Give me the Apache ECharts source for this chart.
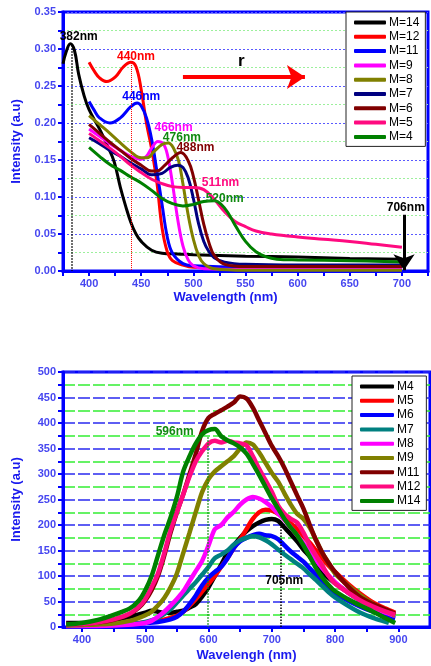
<!DOCTYPE html>
<html>
<head>
<meta charset="utf-8">
<script src="https://cdn.jsdelivr.net/npm/echarts@6/dist/echarts.min.js"></script>
<style>
  html, body { margin: 0; padding: 0; background: #fff; }
  #main { width: 431px; height: 666px; }
</style>
</head>
<body>
<div id="main"></div>
<script>
// absorption spectra, [wavelength nm, intensity a.u]
const absM14 = [[375,0.280],[378,0.296],[382,0.307],[386,0.298],[390,0.266],[395,0.238],[400,0.218],[410,0.192],[418,0.168],[424,0.148],[430,0.113],[435,0.088],[440,0.066],[445,0.050],[450,0.040],[460,0.028],[470,0.024],[485,0.023],[500,0.022],[550,0.020],[600,0.019],[650,0.017],[700,0.016]];
const absM12 = [[400,0.282],[405,0.270],[410,0.261],[417,0.256],[425,0.262],[433,0.276],[440,0.282],[445,0.276],[450,0.245],[455,0.200],[460,0.165],[465,0.120],[470,0.058],[475,0.026],[480,0.014],[490,0.008],[500,0.005],[550,0.004],[600,0.004],[650,0.003],[700,0.003]];
const absM11 = [[400,0.229],[405,0.217],[410,0.207],[420,0.200],[430,0.207],[440,0.222],[446,0.227],[450,0.223],[455,0.207],[460,0.178],[465,0.135],[470,0.090],[475,0.046],[480,0.024],[490,0.010],[500,0.007],[550,0.005],[600,0.005],[650,0.005],[700,0.004]];
const absM9 = [[400,0.192],[410,0.182],[420,0.172],[430,0.163],[440,0.155],[450,0.151],[455,0.155],[460,0.166],[466,0.175],[471,0.172],[475,0.158],[480,0.118],[485,0.070],[490,0.034],[495,0.015],[500,0.007],[510,0.003],[550,0.002],[600,0.002],[650,0.002],[700,0.002]];
const absM8 = [[400,0.210],[410,0.198],[420,0.186],[430,0.173],[440,0.161],[450,0.153],[456,0.153],[462,0.161],[470,0.171],[476,0.173],[481,0.166],[486,0.148],[490,0.118],[495,0.076],[500,0.043],[505,0.021],[510,0.010],[520,0.003],[550,0.001],[600,0.001],[650,0.001],[700,0.001]];
const absM7 = [[400,0.180],[410,0.172],[420,0.163],[430,0.155],[440,0.146],[450,0.138],[460,0.130],[470,0.132],[478,0.140],[485,0.143],[490,0.140],[495,0.126],[500,0.098],[505,0.064],[510,0.040],[515,0.026],[520,0.018],[530,0.012],[550,0.009],[600,0.008],[650,0.008],[700,0.008]];
const absM6 = [[400,0.198],[410,0.186],[420,0.174],[430,0.163],[440,0.152],[450,0.143],[460,0.135],[465,0.135],[472,0.142],[480,0.153],[488,0.160],[495,0.149],[500,0.128],[505,0.096],[510,0.063],[515,0.038],[520,0.021],[530,0.009],[550,0.006],[600,0.006],[650,0.006],[700,0.006]];
const absM5 = [[400,0.186],[410,0.176],[420,0.166],[430,0.155],[440,0.143],[450,0.133],[460,0.124],[470,0.118],[480,0.114],[490,0.113],[500,0.113],[510,0.110],[520,0.097],[530,0.080],[540,0.067],[550,0.060],[560,0.054],[575,0.050],[600,0.046],[625,0.043],[650,0.040],[675,0.036],[700,0.032]];
const absM4 = [[400,0.167],[410,0.155],[420,0.144],[430,0.136],[440,0.127],[450,0.119],[460,0.109],[470,0.098],[480,0.091],[490,0.088],[500,0.090],[510,0.094],[520,0.095],[530,0.085],[540,0.062],[550,0.040],[560,0.026],[570,0.019],[580,0.016],[600,0.015],[650,0.014],[700,0.012]];

// emission spectra, [wavelength nm, intensity a.u]
const plM4 = [[375,8],[400,8],[425,10],[450,14],[475,20],[500,28],[510,32],[520,30],[530,28],[540,28],[550,30],[560,32],[570,38],[580,45],[590,60],[600,78],[610,100],[620,122],[630,145],[640,160],[650,175],[660,188],[670,198],[680,205],[690,210],[700,212],[710,208],[720,195],[730,182],[740,168],[750,152],[760,138],[770,122],[780,108],[790,96],[800,86],[820,68],[840,52],[860,40],[880,30],[895,24]];
const plM5 = [[375,6],[400,5],[450,6],[500,9],[520,12],[540,18],[550,22],[560,30],[570,42],[580,55],[590,70],[600,85],[610,100],[620,118],[630,135],[640,155],[650,172],[660,192],[670,212],[680,225],[690,230],[700,228],[710,222],[720,213],[730,203],[740,192],[750,178],[760,165],[770,150],[780,135],[790,120],[800,108],[820,85],[840,65],[860,48],[880,36],[895,28]];
const plM6 = [[375,4],[400,4],[450,5],[500,8],[520,10],[540,15],[550,20],[560,30],[570,45],[580,62],[590,82],[600,97],[610,108],[620,118],[630,135],[640,155],[650,168],[660,175],[670,180],[680,183],[690,180],[700,178],[710,172],[720,160],[730,148],[740,138],[750,128],[760,115],[770,102],[780,88],[790,76],[800,66],[820,52],[840,40],[860,30],[880,22],[895,17]];
const plM7 = [[375,3],[400,3],[450,4],[480,6],[500,10],[520,18],[540,35],[550,48],[560,62],[570,75],[580,88],[590,103],[600,118],[610,135],[620,142],[630,150],[640,162],[650,170],[660,175],[670,178],[680,176],[690,170],[700,162],[710,152],[720,142],[730,133],[740,124],[750,115],[760,103],[770,92],[780,80],[790,68],[800,58],[820,42],[840,28],[860,18],[880,10],[885,8]];
const plM8 = [[375,2],[400,2],[450,3],[480,5],[500,8],[510,12],[520,20],[530,30],[540,42],[550,55],[560,70],[570,90],[580,110],[590,130],[600,160],[610,192],[620,200],[630,215],[640,226],[650,240],[660,250],[670,255],[680,252],[690,245],[700,235],[710,222],[720,210],[740,180],[760,148],[780,115],[800,88],[820,68],[840,52],[860,38],[880,28],[895,22]];
const plM9 = [[375,3],[400,4],[425,5],[450,7],[475,12],[490,18],[500,23],[510,30],[520,42],[530,57],[540,78],[550,105],[560,145],[570,185],[580,226],[590,265],[600,290],[610,305],[620,315],[630,325],[640,335],[650,350],[660,362],[670,358],[680,342],[690,322],[700,302],[710,285],[720,262],[730,240],[740,222],[750,212],[760,195],[770,170],[780,145],[790,125],[800,105],[820,82],[840,62],[860,45],[880,32],[895,22]];
const plM11 = [[375,4],[400,6],[425,9],[450,14],[475,25],[490,38],[500,52],[510,72],[520,100],[530,140],[540,185],[550,225],[560,260],[570,300],[580,340],[590,385],[600,410],[610,418],[620,425],[630,432],[640,440],[650,452],[660,448],[670,430],[680,405],[690,380],[700,355],[710,335],[720,312],[730,285],[740,258],[750,232],[760,200],[770,170],[780,145],[790,125],[800,108],[820,80],[840,58],[860,45],[880,34],[895,26]];
const plM12 = [[375,4],[400,6],[425,9],[450,15],[475,26],[490,40],[500,55],[510,78],[520,105],[530,145],[540,190],[550,225],[560,260],[570,295],[580,325],[590,345],[600,360],[610,365],[620,362],[630,365],[640,362],[650,360],[660,356],[670,335],[680,310],[690,288],[700,265],[710,238],[720,222],[730,212],[740,205],[750,185],[760,160],[770,140],[780,120],[790,100],[800,85],[820,68],[840,52],[860,40],[880,30],[895,24]];
const plM14 = [[375,5],[400,8],[425,14],[450,24],[475,36],[490,52],[500,72],[510,100],[520,140],[530,180],[540,215],[550,255],[560,305],[570,335],[580,360],[590,378],[600,386],[610,388],[620,374],[630,366],[640,360],[650,352],[660,340],[670,320],[680,298],[690,275],[700,252],[710,232],[720,212],[730,195],[740,180],[750,160],[760,138],[770,115],[780,97],[790,82],[800,70],[820,55],[840,42],[860,30],[880,17],[895,8]];

const absNames = ['M=14','M=12','M=11','M=9','M=8','M=7','M=6','M=5','M=4'];
const absData = [absM14, absM12, absM11, absM9, absM8, absM7, absM6, absM5, absM4];
const absColors = ['#000000','#ff0000','#0000ff','#ff00ff','#808000','#000080','#800000','#ff0a80','#008000'];

const plNames = ['M4','M5','M6','M7','M8','M9','M11','M12','M14'];
const plData = [plM4, plM5, plM6, plM7, plM8, plM9, plM11, plM12, plM14];
const plColors = ['#000000','#ff0000','#0000ff','#008080','#ff00ff','#808000','#800000','#ff0a80','#008000'];

// peak labels: [text, nm, value, colour]
const absLabels = [
  ['382nm', 390, 0.317, '#000000'],
  ['440nm', 445, 0.289, '#ff0000'],
  ['446nm', 450, 0.235, '#0000ff'],
  ['466nm', 481, 0.194, '#ff00ff'],
  ['476nm', 489, 0.180, '#108a10'],
  ['488nm', 502, 0.167, '#800000'],
  ['511nm', 526, 0.119, '#ff0a80'],
  ['520nm', 530, 0.098, '#108a10'],
  ['706nm', 703.7, 0.086, '#000000']
];
const plLabels = [
  ['596nm', 546.5, 382, '#108a10'],
  ['705nm', 719.7, 90, '#000000']
];

const FONT = '"Liberation Sans", Arial, sans-serif';
const AXIS_BLUE = '#0000ff';
const LABEL_BLUE = '#4646f0';

let chart = echarts.init(document.getElementById('main'));

function axisBase() {
    return {
        axisLine: {show: true, onZero: false, lineStyle: {color: AXIS_BLUE, width: 3}},
        axisTick: {show: true, inside: false, length: 5, lineStyle: {color: AXIS_BLUE, width: 2}},
        nameLocation: 'middle',
        nameTextStyle: {color: '#1a1aee', fontWeight: 'bold', fontSize: 13, fontFamily: FONT}
    };
}

function labelStyle(fmt) {
    return {color: LABEL_BLUE, fontWeight: 'bold', fontSize: 11, fontFamily: FONT, margin: 7, formatter: fmt};
}

function legendBase(names, left, top, w) {
    return {
        data: names, orient: 'vertical', left: left, top: top,
        padding: [4, 6, 3, 8], itemWidth: w, itemHeight: 4, itemGap: 1.3,
        icon: 'roundRect', selectedMode: false,
        backgroundColor: '#fff', borderColor: '#222', borderWidth: 1, borderRadius: 0,
        textStyle: {fontFamily: FONT, fontSize: 12, color: '#000', lineHeight: 13, padding: [0, 0, 0, -2]}
    };
}

function textMark(l, size) {
    return {
        coord: [l[1], l[2]],
        label: {show: true, position: 'inside', formatter: l[0], color: l[3], fontWeight: 'bold', fontSize: size || 12, fontFamily: FONT}
    };
}

let series = [];
absData.forEach((d, i) => {
    series.push({
        name: absNames[i], type: 'line', xAxisIndex: 0, yAxisIndex: 0,
        data: d, showSymbol: false, smooth: 0.4,
        lineStyle: {color: absColors[i], width: 3}, itemStyle: {color: absColors[i]}
    });
});
plData.forEach((d, i) => {
    series.push({
        name: plNames[i], type: 'line', xAxisIndex: 1, yAxisIndex: 1,
        data: d, showSymbol: false, smooth: 0.3,
        lineStyle: {color: plColors[i], width: 4.5}, itemStyle: {color: plColors[i]}
    });
});

// annotations, top chart
series.push({
    name: 'absNotes', type: 'line', xAxisIndex: 0, yAxisIndex: 0, data: [], silent: true,
    markPoint: {
        symbol: 'circle', symbolSize: 0,
        data: absLabels.map(l => textMark(l)).concat([textMark(['r', 546, 0.283, '#000000'], 17)])
    },
    markLine: {
        silent: true, label: {show: false},
        data: [
            [{coord: [383.5, 0.305], symbol: 'none', lineStyle: {color: '#000', type: 'dotted', width: 1.5}}, {coord: [383.5, 0], symbol: 'none'}],
            [{coord: [440, 0.281], symbol: 'none', lineStyle: {color: '#ff0000', type: 'dotted', width: 1}}, {coord: [440, 0], symbol: 'none'}],
            [{coord: [490, 0.262], symbol: 'none', lineStyle: {color: '#ff0000', type: 'solid', width: 4}}, {coord: [607, 0.262], symbol: 'arrow', symbolSize: 18}],
            [{coord: [702, 0.076], symbol: 'none', lineStyle: {color: '#000', type: 'solid', width: 3}}, {coord: [702, 0.001], symbol: 'arrow', symbolSize: 16}]
        ]
    }
});
// annotations, bottom chart
series.push({
    name: 'plNotes', type: 'line', xAxisIndex: 1, yAxisIndex: 1, data: [], silent: true,
    markPoint: {symbol: 'circle', symbolSize: 0, data: plLabels.map(l => textMark(l))},
    markLine: {
        silent: true, label: {show: false},
        data: [
            [{coord: [598, 372], symbol: 'none', lineStyle: {color: '#108a10', type: 'dotted', width: 1.5}}, {coord: [598, 0], symbol: 'none'}],
            [{coord: [714, 197], symbol: 'none', lineStyle: {color: '#000', type: 'dotted', width: 1.5}}, {coord: [714, 0], symbol: 'none'}]
        ]
    }
});

chart.setOption({
    animation: false,
    backgroundColor: '#fff',
    grid: [
        {left: 63, top: 12, width: 367, height: 259, show: true, borderColor: AXIS_BLUE, borderWidth: 3},
        {left: 63, top: 372, width: 367, height: 255, show: true, borderColor: AXIS_BLUE, borderWidth: 3}
    ],
    legend: [legendBase(absNames, 346, 12, 32), legendBase(plNames, 352, 376, 34)],
    xAxis: [
        Object.assign(axisBase(), {
            gridIndex: 0, type: 'value', min: 375, max: 725, interval: 25,
            name: 'Wavelength (nm)', nameGap: 20,
            nameTextStyle: {color: '#1a1aee', fontWeight: 'bold', fontSize: 13, fontFamily: FONT, padding: [0, 40, 0, 0]},
            axisLabel: labelStyle(v => (v % 50 === 0 ? v : '')),
            splitLine: {show: false}
        }),
        Object.assign(axisBase(), {
            gridIndex: 1, type: 'value', min: 370, max: 950,
            name: 'Wavelengh (nm)', nameGap: 22,
            axisLabel: Object.assign(labelStyle(v => v), {customValues: [400, 500, 600, 700, 800, 900]}),
            axisTick: {show: true, inside: false, length: 5, lineStyle: {color: AXIS_BLUE, width: 2},
                customValues: [400, 450, 500, 550, 600, 650, 700, 750, 800, 850, 900]},
            splitLine: {show: false}
        })
    ],
    yAxis: [
        Object.assign(axisBase(), {
            gridIndex: 0, type: 'value', min: 0, max: 0.35, interval: 0.025,
            name: 'Intensity (a.u)', nameGap: 40,
            axisLabel: labelStyle(v => (Math.round(v * 1000) % 50 === 0 ? v.toFixed(2) : '')),
            splitLine: {show: true, lineStyle: {color: ['#5a5aff', '#9cf09c'], type: [2, 2], width: 1}}
        }),
        Object.assign(axisBase(), {
            gridIndex: 1, type: 'value', min: 0, max: 500, interval: 25,
            name: 'Intensity (a.u)', nameGap: 40,
            axisLabel: labelStyle(v => (v % 50 === 0 ? v : '')),
            splitLine: {show: true, lineStyle: {color: ['#2a2af0', '#33ee33'], type: [12, 3], width: 1.5}}
        })
    ],
    series: series
});
</script>
</body>
</html>
